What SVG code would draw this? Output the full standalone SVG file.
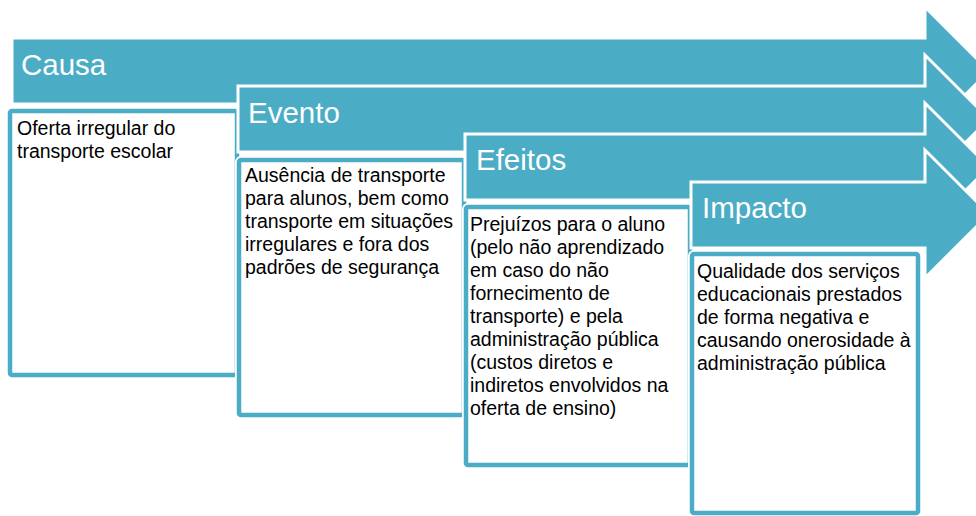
<svg xmlns="http://www.w3.org/2000/svg" width="976" height="516" viewBox="0 0 976 516">
<style>
.arrow{fill:#4BACC6;stroke:#fff;stroke-width:3;stroke-linejoin:miter}
.boxo{fill:none;stroke:#fff;stroke-width:8}
.box{fill:#fff;stroke:#4BACC6;stroke-width:4.5}
.hd{font-family:"Liberation Sans",Arial,sans-serif;font-size:29.5px;fill:#fff}
.tx{font-family:"Liberation Sans",Arial,sans-serif;font-size:19.5px;fill:#000}
</style>
<rect width="976" height="516" fill="#fff"/>
<g id="causa">
<polygon class="arrow" points="12,38 925,38 925,7 989,71 925,135 925,104 12,104"/>
<text class="hd" x="21" y="75">Causa</text>
<rect class="boxo" x="10" y="111" width="227" height="264" rx="2"/>
<rect class="box" x="10" y="111" width="227" height="264" rx="2"/>
<text class="tx" x="17"><tspan x="17" y="135">Oferta irregular do</tspan><tspan x="17" y="158">transporte escolar</tspan></text>
</g>
<g id="evento">
<polygon class="arrow" points="238,86 925,86 925,55 989,119 925,183 925,152 238,152"/>
<text class="hd" x="248" y="123">Evento</text>
<rect class="boxo" x="239" y="160" width="225" height="255" rx="2"/>
<rect class="box" x="239" y="160" width="225" height="255" rx="2"/>
<text class="tx"><tspan x="245" y="182">Ausência de transporte</tspan><tspan x="245" y="205">para alunos, bem como</tspan><tspan x="245" y="228">transporte em situações</tspan><tspan x="245" y="251">irregulares e fora dos</tspan><tspan x="245" y="274">padrões de segurança</tspan></text>
</g>
<g id="efeitos">
<polygon class="arrow" points="465,134 925,134 925,103 989,167 925,231 925,200 465,200"/>
<text class="hd" x="476" y="170">Efeitos</text>
<rect class="boxo" x="466" y="207" width="224" height="258" rx="2"/>
<rect class="box" x="466" y="207" width="224" height="258" rx="2"/>
<text class="tx"><tspan x="470" y="231">Prejuízos para o aluno</tspan><tspan x="470" y="254">(pelo não aprendizado</tspan><tspan x="470" y="277">em caso do não</tspan><tspan x="470" y="300">fornecimento de</tspan><tspan x="470" y="323">transporte) e pela</tspan><tspan x="470" y="346">administração pública</tspan><tspan x="470" y="369">(custos diretos e</tspan><tspan x="470" y="392">indiretos envolvidos na</tspan><tspan x="470" y="415">oferta de ensino)</tspan></text>
</g>
<g id="impacto">
<polygon class="arrow" points="691,182 925,182 925,150 989,214 925,278 925,248 691,248"/>
<text class="hd" x="702" y="218">Impacto</text>
<rect class="boxo" x="692" y="254" width="226" height="259" rx="2"/>
<rect class="box" x="692" y="254" width="226" height="259" rx="2"/>
<text class="tx"><tspan x="697" y="278">Qualidade dos serviços</tspan><tspan x="697" y="301">educacionais prestados</tspan><tspan x="697" y="324">de forma negativa e</tspan><tspan x="697" y="347">causando onerosidade à</tspan><tspan x="697" y="370">administração pública</tspan></text>
</g>
<g id="connectors"></g>
</svg>
